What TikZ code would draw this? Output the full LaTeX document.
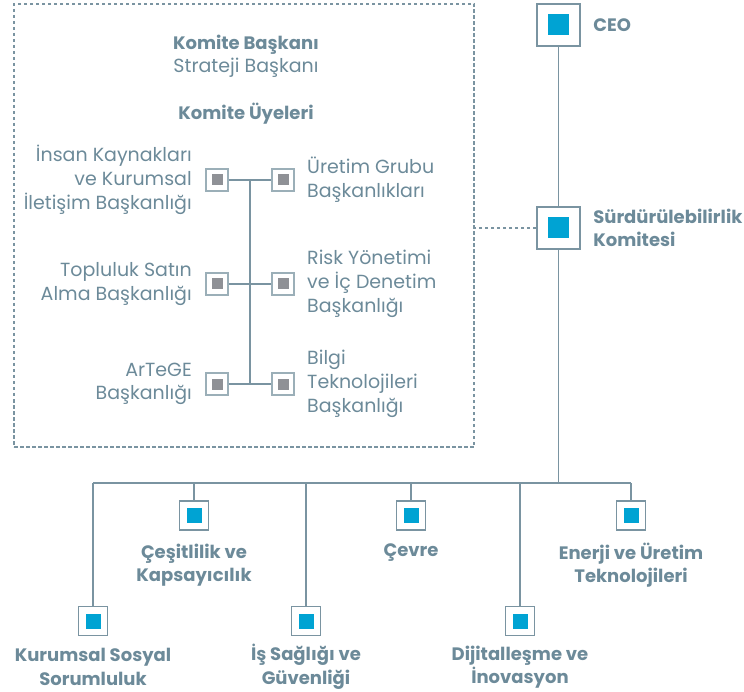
\documentclass[tikz,border=0pt]{standalone}
\usepackage{fontspec}
\setmainfont{Poppins}
\usetikzlibrary{positioning}
\definecolor{linegray}{RGB}{122,148,161}
\definecolor{txtgray}{RGB}{108,138,153}
\definecolor{boxblue}{RGB}{0,163,211}
\definecolor{boxgray}{RGB}{143,145,150}

\begin{document}
\begin{tikzpicture}[x=1pt,y=-1pt,
  conn/.style={draw=linegray,line width=1.3pt},
  bigbox/.style={draw=linegray,line width=1.6pt,fill=white,minimum width=43pt,minimum height=42pt,inner sep=0pt,
    path picture={\fill[boxblue] ([shift={(-10.5pt,-10.5pt)}]path picture bounding box.center) rectangle ++(21pt,21pt);}},
  areabox/.style={draw=linegray,line width=1.4pt,fill=white,minimum size=29pt,inner sep=0pt,
    path picture={\fill[boxblue] ([shift={(-7.5pt,-7.5pt)}]path picture bounding box.center) rectangle ++(15pt,15pt);}},
  memberbox/.style={draw=linegray!75,line width=1.4pt,fill=white,minimum size=22pt,inner sep=0pt,
    path picture={\fill[boxgray] ([shift={(-5.5pt,-5.5pt)}]path picture bounding box.center) rectangle ++(11pt,11pt);}},
  headtxt/.style={text=txtgray,font=\bfseries\fontsize{18}{23.5}\selectfont},
  plaintxt/.style={text=txtgray,font=\fontsize{19}{23.7}\selectfont},
]
\useasboundingbox (0,0) rectangle (744,692);

% committee frame
\node (komite) [draw=linegray,line width=1.3pt,dash pattern=on 3.5pt off 2.5pt,minimum width=460pt,minimum height=443pt,inner sep=0pt] at (244,225.5) {};
\node (baskan) [headtxt] at (246,45) {Komite Başkanı};
\node (strateji) [plaintxt] at (246,68) {Strateji Başkanı};
\node (uyeler) [headtxt] at (246,114) {Komite Üyeleri};

% members
\node (l1) [memberbox] at (217,180) {};
\node (l2) [memberbox] at (217,284) {};
\node (l3) [memberbox] at (217,384) {};
\node (r1) [memberbox] at (283,180) {};
\node (r2) [memberbox] at (283,284) {};
\node (r3) [memberbox] at (283,384) {};
\draw[conn] (l1) -- (r1) coordinate[midway] (spinetop);
\draw[conn] (l2) -- (r2);
\draw[conn] (l3) -- (r3) coordinate[midway] (spinebot);
\draw[conn] (spinetop) -- (spinebot);

\node (ik) [plaintxt,align=right,left=10pt of l1] {İnsan Kaynakları\\ve Kurumsal\\İletişim Başkanlığı};
\node (satin) [plaintxt,align=right,left=10pt of l2] {Topluluk Satın\\Alma Başkanlığı};
\node (artege) [plaintxt,align=right,left=10pt of l3] {ArTeGE\\Başkanlığı};
\node (uretim) [plaintxt,align=left,right=9pt of r1] {Üretim Grubu\\Başkanlıkları};
\node (risk) [plaintxt,align=left,right=9pt of r2] {Risk Yönetimi\\ve İç Denetim\\Başkanlığı};
\node (bilgi) [plaintxt,align=left,right=9pt of r3] {Bilgi\\Teknolojileri\\Başkanlığı};

% main line
\node (ceo) [bigbox] at (558.5,25) {};
\node (sk) [bigbox] at (558.5,228) {};
\node (ceolbl) [headtxt,right=9pt of ceo] {CEO};
\node (sklbl) [headtxt,align=left,right=9pt of sk] {Sürdürülebilirlik\\Komitesi};
\draw[conn] (ceo) -- (sk);
\draw[conn,dash pattern=on 3.5pt off 2.5pt] (sk.west) -- (sk.west -| komite.east);

% working groups
\coordinate (bus) at (558.5,483);
\node (kss) [areabox] at (93,621) {};
\node (cesit) [areabox] at (194,515.5) {};
\node (isg) [areabox] at (306,621) {};
\node (cevre) [areabox] at (411,515.5) {};
\node (dijital) [areabox] at (520,621) {};
\node (enerji) [areabox] at (631,515.5) {};
\draw[conn] (sk) -- (bus);
\draw[conn] (bus -| kss) -- (bus -| enerji);
\foreach \g in {kss,cesit,isg,cevre,dijital,enerji}
  \draw[conn] (bus -| \g) -- (\g);

\node (kssl) [headtxt,align=center] at (93,667) {Kurumsal Sosyal\\Sorumluluk};
\node (cesitl) [headtxt,align=center] at (194,565) {Çeşitlilik ve\\Kapsayıcılık};
\node (isgl) [headtxt,align=center] at (306,667) {İş Sağlığı ve\\Güvenliği};
\node (cevrel) [headtxt] at (411,553) {Çevre};
\node (dijitall) [headtxt,align=center] at (520,667) {Dijitalleşme ve\\İnovasyon};
\node (enerjil) [headtxt,align=center] at (631,565) {Enerji ve Üretim\\Teknolojileri};
\end{tikzpicture}
\end{document}
